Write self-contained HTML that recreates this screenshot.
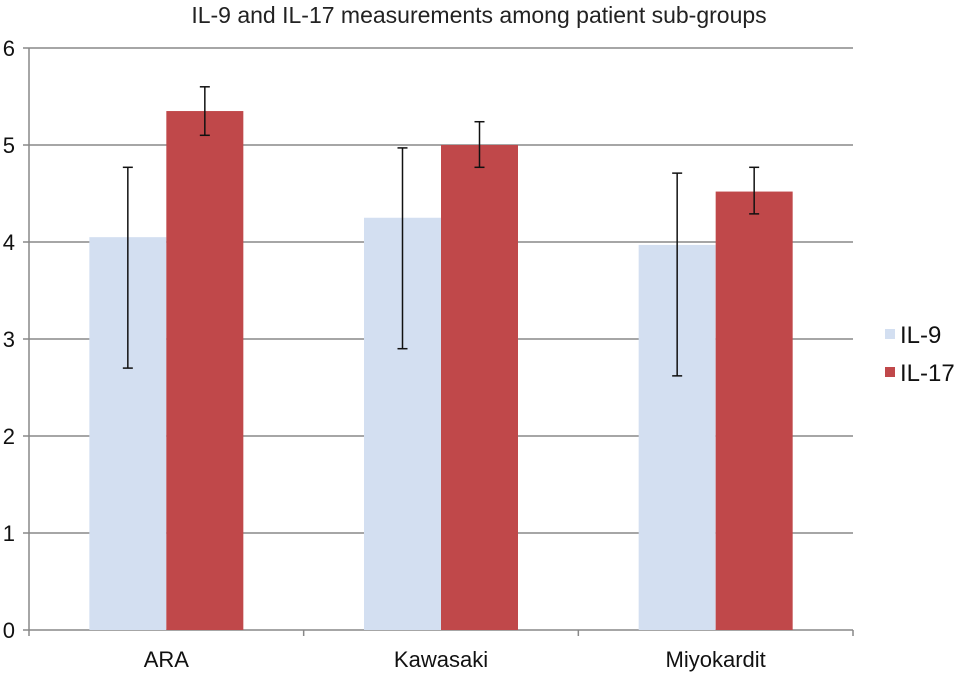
<!DOCTYPE html>
<html><head><meta charset="utf-8"><style>
body{margin:0;background:#fff;width:957px;height:674px;overflow:hidden}
svg{font-family:"Liberation Sans",sans-serif}
</style></head><body>
<svg id="chart" width="957" height="674">
<text x="479" y="23" text-anchor="middle" font-size="23" fill="#222">IL-9 and IL-17 measurements among patient sub-groups</text>
<g id="grid"></g><g id="bars"></g><g id="errs"></g>
<line x1="29" y1="48" x2="29" y2="636" stroke="#888" stroke-width="1.5"/>
<g>
<rect x="885" y="329" width="10" height="10" fill="#d3dff1"/>
<text x="900" y="343" font-size="24" fill="#111">IL-9</text>
<rect x="885" y="367" width="10" height="10" fill="#c0484a"/>
<text x="900" y="381" font-size="24" fill="#111">IL-17</text>
</g>
</svg>
<script>
const categories=["ARA","Kawasaki","Miyokardit"];
const il9=[4.05,4.25,3.97];
const il9Low=[2.7,2.9,2.62];
const il9High=[4.77,4.97,4.71];
const il17=[5.35,5.0,4.52];
const il17Low=[5.1,4.77,4.29];
const il17High=[5.6,5.24,4.77];
const yTicks=[0,1,2,3,4,5,6];
const NS="http://www.w3.org/2000/svg";
const x0=29,x1=853,yBase=630,yTop=48;
const y=v=>yBase-(v/6)*(yBase-yTop);
const catW=(x1-x0)/categories.length;
const grid=document.getElementById('grid'),bars=document.getElementById('bars'),errs=document.getElementById('errs');
function mk(tag,attrs,parent){const e=document.createElementNS(NS,tag);for(const k in attrs)e.setAttribute(k,attrs[k]);parent.appendChild(e);return e;}
yTicks.forEach(t=>{
 const l=mk('line',{x1:23,x2:x1,y1:y(t),y2:y(t),stroke:'#888','stroke-width':1.5},grid);
 
 
 const tx=mk('text',{x:15,y:y(t)+8,'text-anchor':'end','font-size':22,fill:'#111'},grid);
 tx.textContent=t;
 
 
});
categories.forEach((c,i)=>{
 const cx=x0+catW*(i+0.5);
 const bw=77;
 const series=[[il9,il9Low,il9High,'#d3dff1','il9',cx-bw],[il17,il17Low,il17High,'#c0484a','il17',cx]];
 series.forEach(([v,lo,hi,col,nm,bx])=>{
  const r=mk('rect',{x:bx,y:y(v[i]),width:bw,height:yBase-y(v[i]),fill:col},bars);
  
  
  const ex=bx+bw/2;
  const g=mk('g',{stroke:'#111','stroke-width':1.5},errs);
  
  
  mk('line',{x1:ex,x2:ex,y1:y(lo[i]),y2:y(hi[i])},g);
  mk('line',{x1:ex-5,x2:ex+5,y1:y(lo[i]),y2:y(lo[i])},g);
  mk('line',{x1:ex-5,x2:ex+5,y1:y(hi[i]),y2:y(hi[i])},g);
 });
 const tk=mk('line',{x1:x0+catW*(i+1),x2:x0+catW*(i+1),y1:yBase,y2:yBase+6,stroke:'#888','stroke-width':1.5},grid);
 
 
 const t=mk('text',{x:cx,y:667,'text-anchor':'middle','font-size':22,fill:'#111'},grid);
 t.textContent=c;
 
 
});
</script>
</body></html>
